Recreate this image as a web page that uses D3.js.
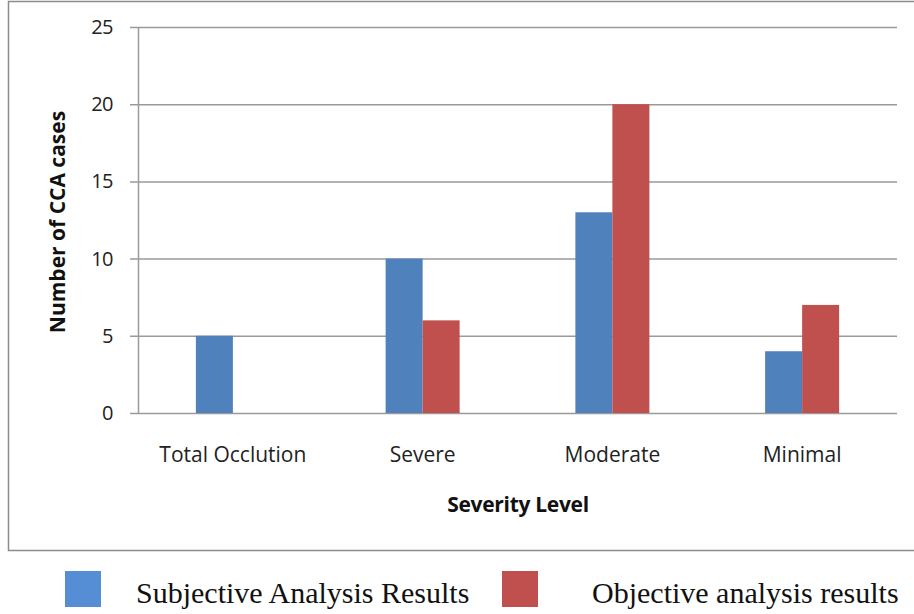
<!DOCTYPE html>
<html>
<head>
<meta charset="utf-8">
<script src="https://cdn.jsdelivr.net/npm/d3@7"></script>
<style>
  body { margin: 0; background: #fff; }
  svg { display: block; }
</style>
</head>
<body>
<svg width="914" height="614"></svg>
<script>
var categories = ["Total Occlution", "Severe", "Moderate", "Minimal"];
var seriesNames = ["Subjective Analysis Results", "Objective analysis results"];
var subjective = [5, 10, 13, 4];
var objective = [0, 6, 20, 7];
var yTicks = [0, 5, 10, 15, 20, 25];

var colors = ["#4f81bd", "#c0504d"];

var svg = d3.select("svg"),
    width = +svg.attr("width"),
    height = +svg.attr("height");

var margin = {left: 138, right: 17, top: 27, bottom: 201};
var plotW = width - margin.left - margin.right,
    plotH = height - margin.top - margin.bottom;

// outer chart frame (right edge cut off in the original)
svg.append("path")
    .attr("d", "M" + 914 + ",1.5 H8.5 V550.5 H" + 914)
    .attr("fill", "none")
    .attr("stroke", "#8c8c8c")
    .attr("stroke-width", 1.5);

var g = svg.append("g")
    .attr("transform", "translate(" + margin.left + "," + margin.top + ")");

var x = d3.scaleBand()
    .domain(categories)
    .range([0, plotW]);

var x1 = d3.scaleBand()
    .domain(d3.range(seriesNames.length))
    .range([0, 74]);

var y = d3.scaleLinear()
    .domain([0, 25])
    .range([plotH, 0]);

// gridlines
g.append("g")
    .selectAll("line")
    .data(yTicks)
    .enter().append("line")
      .attr("x1", -8)
      .attr("x2", plotW)
      .attr("y1", function(d) { return y(d) + 0.5; })
      .attr("y2", function(d) { return y(d) + 0.5; })
      .attr("stroke", "#9a9a9a")
      .attr("stroke-width", 1.5);

// y axis line
g.append("line")
    .attr("x1", 0.5).attr("x2", 0.5)
    .attr("y1", 0).attr("y2", plotH)
    .attr("stroke", "#9a9a9a")
    .attr("stroke-width", 1.5);

var rows = categories.map(function(c, i) {
    return {cat: c, values: [subjective[i], objective[i]]};
});

var groups = g.selectAll(".grp")
    .data(rows)
    .enter().append("g")
      .attr("class", "grp")
      .attr("transform", function(d) {
          return "translate(" + (x(d.cat) + x.bandwidth() / 2 - 37) + ",0)";
      });

groups.selectAll("rect")
    .data(function(d) { return d.values; })
    .enter().append("rect")
      .attr("x", function(d, i) { return x1(i); })
      .attr("width", x1.bandwidth())
      .attr("y", function(d) { return y(d); })
      .attr("height", function(d) { return plotH - y(d); })
      .attr("fill", function(d, i) { return colors[i]; });

// y tick labels
g.append("g")
    .selectAll("text")
    .data(yTicks)
    .enter().append("text")
      .attr("x", -25)
      .attr("y", function(d) { return y(d) + 7; })
      .attr("text-anchor", "end")
      .attr("font-family", "Open Sans, sans-serif")
      .attr("font-size", "20px")
      .attr("letter-spacing", "-0.5px")
      .attr("fill", "#222")
      .text(function(d) { return d; });

// category labels
g.append("g")
    .selectAll("text")
    .data(categories)
    .enter().append("text")
      .attr("x", function(d) { return x(d) + x.bandwidth() / 2; })
      .attr("y", plotH + 49)
      .attr("text-anchor", "middle")
      .attr("font-family", "Open Sans, sans-serif")
      .attr("font-size", "21px")
      .attr("fill", "#222")
      .text(function(d) { return d; });

// axis titles
svg.append("text")
    .attr("x", 518)
    .attr("y", 512)
    .attr("text-anchor", "middle")
    .attr("font-family", "Open Sans, sans-serif")
    .attr("font-weight", "bold")
    .attr("font-size", "21px")
    .attr("letter-spacing", "-0.3px")
    .attr("fill", "#111")
    .text("Severity Level");

svg.append("text")
    .attr("transform", "translate(65,222) rotate(-90)")
    .attr("text-anchor", "middle")
    .attr("font-family", "Open Sans, sans-serif")
    .attr("font-weight", "bold")
    .attr("font-size", "21px")
    .attr("letter-spacing", "0px")
    .attr("fill", "#111")
    .text("Number of CCA cases");

// legend
var legX = [65, 502], legTextX = [136, 592];
var legend = svg.selectAll(".leg")
    .data(seriesNames)
    .enter().append("g")
      .attr("class", "leg");

legend.append("rect")
    .attr("x", function(d, i) { return legX[i]; })
    .attr("y", 571)
    .attr("width", 36)
    .attr("height", 36)
    .attr("fill", function(d, i) { return i == 0 ? "#558ed5" : "#c0504d"; });

legend.append("text")
    .attr("x", function(d, i) { return legTextX[i]; })
    .attr("y", 603)
    .attr("font-family", "Liberation Serif, serif")
    .attr("font-size", "30px")
    .attr("fill", "#111")
    .text(function(d) { return d; });
</script>
</body>
</html>
